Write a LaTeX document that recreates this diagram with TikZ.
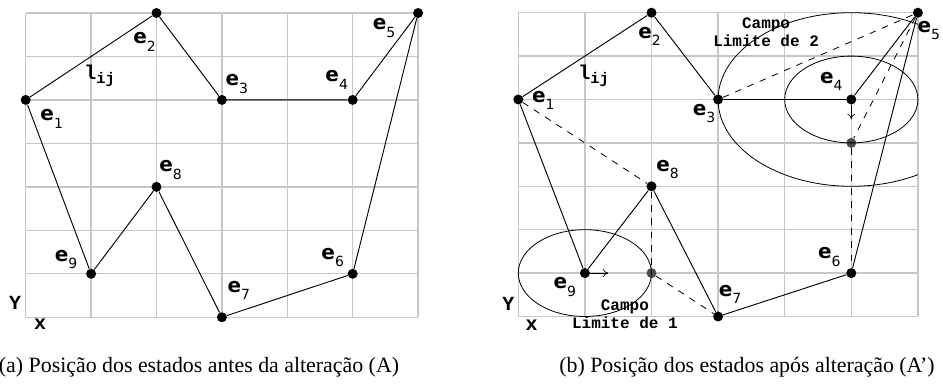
\documentclass[tikz,border=0pt]{standalone}
\usepackage{fontspec}
\setmainfont{Liberation Serif}
\newfontfamily\sansfnt{DejaVu Sans}
\newfontfamily\monofnt{Liberation Mono}
\usetikzlibrary{arrows.meta,calc}

% state label e_i and the distance label l_ij
\newcommand{\est}[1]{{\sansfnt\bfseries\fontsize{15}{15}\selectfont e}%
  {\sansfnt\fontsize{10.5}{10.5}\selectfont\raisebox{-5.5pt}{#1}}}
\newcommand{\lij}{{\monofnt\bfseries\fontsize{15}{15}\selectfont l}%
  {\monofnt\bfseries\fontsize{11.5}{11.5}\selectfont\raisebox{-3pt}{ij}}}

\begin{document}
\begin{tikzpicture}[
  x=0.75pt,y=-0.75pt,
  grd/.style   ={draw=black!22,line width=1pt},
  edge/.style  ={draw=black,line width=0.7pt},
  dot/.style   ={circle,fill=black,inner sep=0pt,minimum size=7.5pt},
  ghost/.style ={circle,fill=black!70,inner sep=0pt,minimum size=7.5pt},
  elbl/.style  ={inner sep=0pt},
  axlbl/.style ={font=\monofnt\bfseries\fontsize{15}{15}\selectfont,inner sep=0pt},
  campo/.style ={font=\monofnt\bfseries\fontsize{12}{13.5}\selectfont,align=center,inner sep=0pt},
  moved/.style ={draw=black,dash pattern=on 5pt off 5pt,line width=0.6pt},
  captxt/.style={font=\fontsize{16.4}{16.4}\selectfont,inner sep=0pt},
  >={To[length=4pt,width=6pt]}]

\useasboundingbox (0,0) rectangle (943,384);

% ---------- (a) states before the change ----------
\begin{scope}[shift={(25.7,13)},x=49.05pt,y=-32.6pt]
\foreach \i in {0,...,6} \draw[grd] (\i,0) -- (\i,7);
\foreach \j in {0,...,7} \draw[grd] (0,\j) -- (6,\j);
\foreach \n/\i/\j in {1/0/2,2/2/0,3/3/2,4/5/2,5/6/0,6/5/6,7/3/7,8/2/4,9/1/6}
  \node[dot] (a\n) at (\i,\j) {};
\draw[edge] (a1) -- (a2) -- (a3) -- (a4) -- (a5) -- (a6) -- (a7) -- (a8) -- (a9) -- (a1);

\node[elbl] (la1) at ($(a1)+(19.5pt,-14.25pt)$) {\est{1}};
\node[elbl] (la2) at ($(a2)+(-9pt,-21.75pt)$)   {\est{2}};
\node[elbl] (la3) at ($(a3)+(11.25pt,12pt)$)    {\est{3}};
\node[elbl] (la4) at ($(a4)+(-12pt,15pt)$)      {\est{4}};
\node[elbl] (la5) at ($(a5)+(-25.5pt,-11.25pt)$){\est{5}};
\node[elbl] (la6) at ($(a6)+(-15pt,12pt)$)      {\est{6}};
\node[elbl] (la7) at ($(a7)+(12.75pt,20.25pt)$) {\est{7}};
\node[elbl] (la8) at ($(a8)+(10.5pt,12.75pt)$)  {\est{8}};
\node[elbl] (la9) at ($(a9)+(-18.75pt,10.5pt)$) {\est{9}};
\node[elbl] (lija) at (1.13,1.45) {\lij};

\node[axlbl] (ya) at (-0.16,6.67) {Y};
\node[axlbl] (xa) at (0.22,7.17) {x};
\end{scope}

% ---------- (b) states after the change ----------
\begin{scope}[shift={(518.3,12.7)},x=49.95pt,y=-32.55pt]
\foreach \i in {0,...,6} \draw[grd] (\i,0) -- (\i,7);
\foreach \j in {0,...,7} \draw[grd] (0,\j) -- (6,\j);
\foreach \n/\i/\j in {1/0/2,2/2/0,3/3/2,4/5/2,5/6/0,6/5/6,7/3/7,8/2/4,9/1/6}
  \node[dot] (b\n) at (\i,\j) {};
\node[ghost] (g4) at (5,3) {};
\node[ghost] (g9) at (2,6) {};

% limit fields
\draw[edge,line width=0.6pt] (b9) ellipse [x radius=1,y radius=1];
\draw[edge,line width=0.6pt] (b4) ellipse [x radius=1,y radius=1];
\begin{scope}
\clip (2.9,-0.5) rectangle (6,4.5);
\draw[edge,line width=0.6pt] (b4) ellipse [x radius=2,y radius=2];
\end{scope}

\draw[edge] (b1) -- (b2) -- (b3) -- (b4) -- (b5) -- (b6) -- (b7) -- (b8) -- (b9) -- (b1);

\draw[moved] (b1) -- (b8);
\draw[moved] (b8) -- (g9);
\draw[moved] (g9) -- (b7);
\draw[moved] (b3) -- (b5);
\draw[moved] (b5) -- (g4);
\draw[moved] (g4) -- (b6);

\coordinate (t9) at (1.35,6);
\coordinate (t4) at (5,2.45);
\draw[->,line width=0.5pt] (b9) -- (t9);
\draw[->,line width=0.5pt] (b4) -- (t4);

\node[elbl] (lb1) at ($(b1)+(18.75pt,-0.75pt)$) {\est{1}};
\node[elbl] (lb2) at ($(b2)+(-1.5pt,-18pt)$)    {\est{2}};
\node[elbl] (lb3) at ($(b3)+(-10.5pt,-10.5pt)$) {\est{3}};
\node[elbl] (lb4) at ($(b4)+(-15pt,13.5pt)$)    {\est{4}};
\node[elbl] (lb5) at ($(b5)+(8.25pt,-13.5pt)$)  {\est{5}};
\node[elbl] (lb6) at ($(b6)+(-16.5pt,12pt)$)    {\est{6}};
\node[elbl] (lb7) at ($(b7)+(9pt,16.5pt)$)      {\est{7}};
\node[elbl] (lb8) at ($(b8)+(12pt,12.75pt)$)    {\est{8}};
\node[elbl] (lb9) at ($(b9)+(-15pt,-10.5pt)$)   {\est{9}};
\node[elbl] (lijb) at (1.13,1.45) {\lij};

\node[campo] (c2) at (3.72,0.45) {Campo\\Limite de 2};
\node[campo] (c1) at (1.6,6.95)  {Campo\\Limite de 1};

\node[axlbl] (yb) at (-0.15,6.7) {Y};
\node[axlbl] (xb) at (0.2,7.2)   {x};
\end{scope}

% ---------- captions ----------
\node[captxt] (capa) at (199,367) {(a) Posição dos estados antes da alteração (A)};
\node[captxt] (capb) at (747,367) {(b) Posição dos estados após alteração (A’)};
\end{tikzpicture}
\end{document}
